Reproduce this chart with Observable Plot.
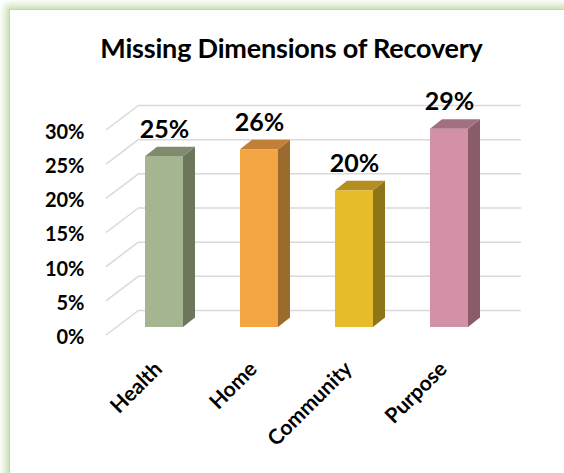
<!DOCTYPE html>
<html><head><meta charset="utf-8">
<script src="https://cdn.jsdelivr.net/npm/d3@7"></script>
<script src="https://cdn.jsdelivr.net/npm/@observablehq/plot@0.6"></script>
<style>
html,body{margin:0;padding:0;background:#fff;}
#wrap{position:relative;width:564px;height:473px;overflow:hidden;font-family:Lato,"Noto Sans",sans-serif;background:#fff;}
#frame{position:absolute;left:9px;top:9px;width:620px;height:540px;border-left:1px solid #c9cdc4;border-top:1px solid #c9cdc4;box-shadow:-1px -1px 7px 3px rgba(195,218,172,0.9);background:#fff;}
#chart{position:absolute;left:0;top:0;width:564px;}
#title{margin:0;height:30px;padding-top:33px;padding-bottom:1px;line-height:30px;font-size:27px;font-weight:700;text-align:center;padding-left:19px;color:#000;font-family:Lato,"Noto Sans",sans-serif;letter-spacing:-0.2px;}
svg{display:block;}
</style>
</head><body>
<div id="wrap"><div id="frame"></div><div id="chart"><h2 id="title">Missing Dimensions of Recovery</h2></div></div>
<script>
// ---- data ----
const categories = ["Health", "Home", "Community", "Purpose"];
const values = [0.25, 0.26, 0.20, 0.29];
const yTicks = [0, 0.05, 0.10, 0.15, 0.20, 0.25, 0.30];

// ---- styles ----
const frontColors = ["#a6b591", "#f3a544", "#e6bc2a", "#d291a6"];
const topColors   = ["#7f8b6c", "#c17f37", "#b38f1f", "#a3707f"];
const sideColors  = ["#6b765a", "#9b6a2d", "#8f751a", "#8a5c69"];

const data = categories.map((c, i) => ({cat: c, value: values[i], i}));
const pct = d3.format(".0%");

const FRONT_DY = 17;      // bars sit in front of the back wall
const DEPTH_X = 12, DEPTH_Y = 9.5;   // bar depth
const WALL_DX = -33, WALL_DY = 25;   // floor/side diagonals

function diagonals(index, scales, values, dims) {
  const g = d3.create("svg:g");
  for (const t of yTicks) {
    const y = scales.y(t);
    g.append("line")
      .attr("x1", dims.marginLeft).attr("y1", y)
      .attr("x2", dims.marginLeft + WALL_DX).attr("y2", y + WALL_DY)
      .attr("stroke", "#d9d9d9").attr("stroke-width", 1.5);
  }
  return g.node();
}

function faces(index, scales) {
  const g = d3.create("svg:g");
  const bw = scales.x.bandwidth();
  data.forEach((d, i) => {
    const x0 = scales.x(d.cat), x1 = x0 + bw;
    const yt = scales.y(d.value) + FRONT_DY, yb = scales.y(0) + FRONT_DY;
    g.append("path")
      .attr("d", `M${x1},${yt}L${x1 + DEPTH_X},${yt - DEPTH_Y}L${x1 + DEPTH_X},${yb - DEPTH_Y}L${x1},${yb}Z`)
      .attr("fill", sideColors[i]);
    g.append("path")
      .attr("d", `M${x0},${yt}L${x0 + DEPTH_X},${yt - DEPTH_Y}L${x1 + DEPTH_X},${yt - DEPTH_Y}L${x1},${yt}Z`)
      .attr("fill", topColors[i]);
  });
  return g.node();
}

const plot = Plot.plot({
  width: 564,
  height: 409,
  marginLeft: 139,
  marginRight: 43,
  marginTop: 41,
  marginBottom: 163,
  style: {fontFamily: "Lato, 'Noto Sans', sans-serif", color: "#000", background: "transparent", overflow: "visible"},
  x: {domain: categories, paddingInner: 0.6, paddingOuter: 0.3105, align: 0.1017, axis: null},
  y: {domain: [0, 0.30], axis: null},
  color: {domain: categories, range: frontColors},
  marks: [
    Plot.ruleY(yTicks, {stroke: "#d9d9d9", strokeWidth: 1.5}),
    diagonals,
    Plot.barY(data, {x: "cat", y: "value", fill: "cat", dy: FRONT_DY}),
    faces,
    Plot.text(data, {x: "cat", y: "value", text: d => pct(d.value), dy: FRONT_DY - 27,
      fontSize: 25, fontWeight: "bold", fill: "#000"}),
    Plot.text(yTicks, {y: d => d, text: d => pct(d), frameAnchor: "left", textAnchor: "end",
      dx: -55, dy: 27, fontSize: 20, fontWeight: "bold", fill: "#000"}),
    Plot.text(categories, {x: d => d, text: d => d, frameAnchor: "bottom", rotate: -45,
      textAnchor: "end", lineAnchor: "middle", dx: -6, dy: 55, fontSize: 21, fontWeight: "bold", fill: "#000"})
  ]
});
document.getElementById("chart").appendChild(plot);
</script>
</body></html>
